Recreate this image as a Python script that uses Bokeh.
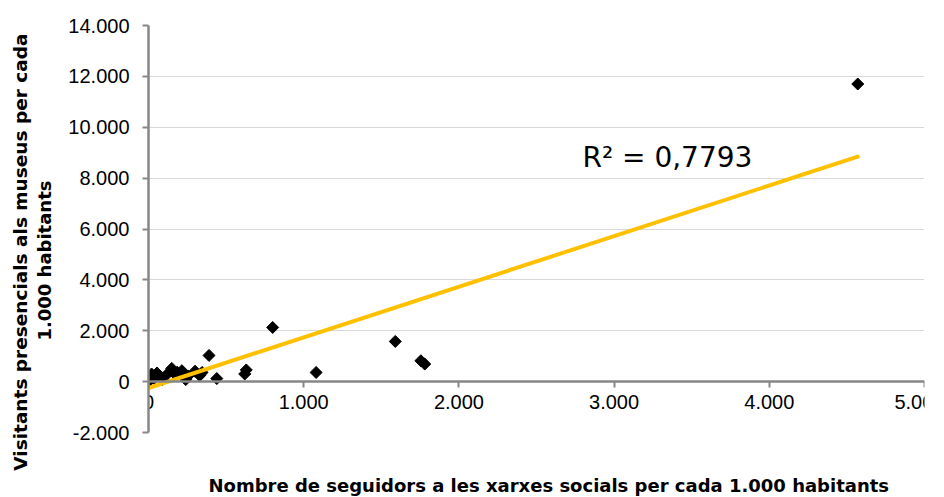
import math
from bokeh.plotting import figure
from bokeh.models import (Range1d, FixedTicker, CustomJSTickFormatter, Label, Title,
                          LinearAxis)
from bokeh.embed import file_html
from bokeh.resources import INLINE

# --- data ---
followers = [0, 10, 20, 35, 55, 75, 90, 115, 150, 160, 185, 215, 240, 255,
             300, 330, 345, 390, 440, 620, 630, 800, 1080, 1590, 1755, 1780, 4570]
visitors = [170, 60, 300, 120, 340, 200, 80, 260, 520, 360, 370, 430, 80, 220,
            410, 240, 360, 1030, 120, 300, 460, 2130, 360, 1580, 820, 690, 11700]

trend_slope = 1.99
trend_intercept = -250
r2_text = "R² = 0,7793"

x_ticks = [0, 1000, 2000, 3000, 4000, 5000]
y_ticks = [-2000, 0, 2000, 4000, 6000, 8000, 10000, 12000, 14000]

x_title = "Nombre de seguidors a les xarxes socials per cada 1.000 habitants"
y_title_1 = "Visitants presencials als museus per cada"
y_title_2 = "1.000 habitants"

# --- figure ---
p = figure(width=944, height=497, output_backend="svg", toolbar_location=None,
           x_range=Range1d(0, 5000), y_range=Range1d(-2000, 14000),
           min_border_left=148, min_border_right=20, min_border_top=25,
           min_border_bottom=65)
p.outline_line_color = None
p.background_fill_color = "white"
p.border_fill_color = "white"

fmt = CustomJSTickFormatter(code="""
return Math.round(tick).toString().replace(/\\B(?=(\\d{3})+(?!\\d))/g, ".");
""")

axis_gray = "#878787"
for ax in (p.xaxis, p.yaxis):
    ax.axis_line_color = axis_gray
    ax.axis_line_width = 2.5
    ax.major_tick_line_color = axis_gray
    ax.major_tick_line_width = 2
    ax.major_tick_in = 0
    ax.major_tick_out = 6
    ax.minor_tick_line_color = None
    ax.major_label_text_font = "Liberation Sans"
    ax.major_label_text_font_size = "20px"
    ax.major_label_text_color = "#000000"
    ax.formatter = fmt

p.xaxis.ticker = FixedTicker(ticks=x_ticks)
p.yaxis.ticker = FixedTicker(ticks=y_ticks)
p.xaxis.fixed_location = 0
p.xaxis.major_label_standoff = 7
p.yaxis.major_label_standoff = 13

p.xgrid.visible = False
p.ygrid.ticker = FixedTicker(ticks=y_ticks)
p.ygrid.grid_line_color = "#d9d9d9"
p.ygrid.grid_line_width = 1

# points
p.scatter(followers, visitors, marker="square", angle=math.pi / 4, size=8.5,
          fill_color="black", line_color="black")

# trend line
x0, x1 = min(followers), max(followers)
p.line([x0, x1], [trend_slope * x0 + trend_intercept, trend_slope * x1 + trend_intercept],
       line_color="#FFC000", line_width=4, line_cap="round")

# R² label
p.add_layout(Label(x=2796, y=8800, text=r2_text, text_font="DejaVu Sans",
                   text_font_size="28px", text_color="#000000",
                   text_baseline="alphabetic", text_align="left"))

# invisible spacer below the (zero-size, fixed-location) x axis, then the x title
spacer = LinearAxis(ticker=FixedTicker(ticks=[2500]), axis_line_color=None,
                    major_tick_line_color="white", major_tick_line_width=1,
                    minor_tick_line_color=None,
                    major_tick_in=0, major_tick_out=40, major_label_standoff=0,
                    major_label_text_font_size="0px",
                    formatter=CustomJSTickFormatter(code="return '';"))
p.add_layout(spacer, "below")
p.add_layout(Title(text=x_title, align="left", offset=60, standoff=0,
                   vertical_align="bottom",
                   text_font="DejaVu Sans", text_font_size="18px",
                   text_font_style="bold", text_color="#000000"), "below")

# y titles (two centred lines)
p.add_layout(Title(text=y_title_2, align="right", offset=155, standoff=22,
                   text_font="DejaVu Sans", text_font_size="18px",
                   text_font_style="bold", text_color="#000000"), "left")
try:
    t1 = Title(text=y_title_1, align="right", offset=8, standoff=-20,
               text_font="DejaVu Sans", text_font_size="18.5px",
               text_font_style="bold", text_color="#000000")
except ValueError:
    t1 = Title(text=y_title_1, align="right", offset=8, standoff=0,
               text_font="DejaVu Sans", text_font_size="18.5px",
               text_font_style="bold", text_color="#000000")
p.add_layout(t1, "left")

open("out.html", "w").write(file_html(p, INLINE))
